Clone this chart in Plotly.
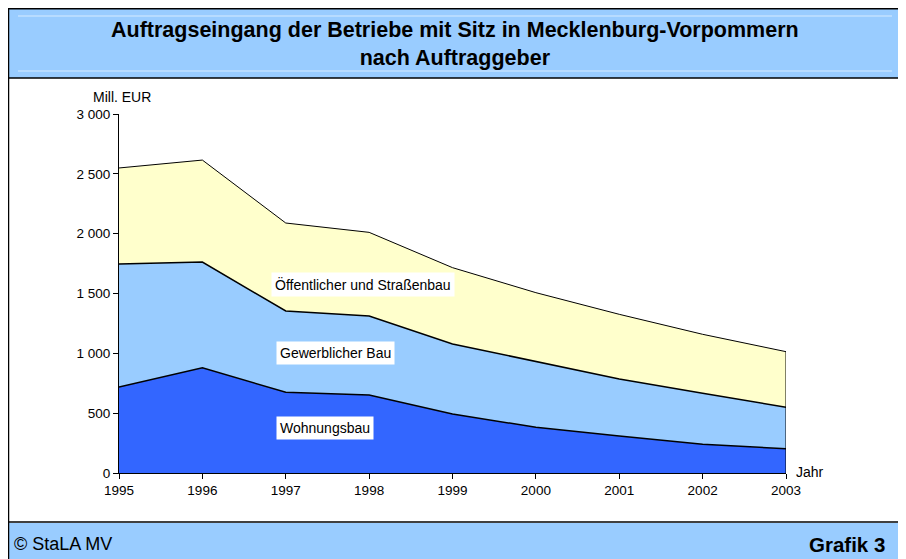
import plotly.graph_objects as go

years = [1995, 1996, 1997, 1998, 1999, 2000, 2001, 2002, 2003]
wohnungsbau = [718, 880, 674, 652, 493, 382, 309, 240, 203]
gewerblich = [1029, 883, 680, 660, 585, 548, 477, 426, 346]
oeffentlich = [802, 852, 735, 699, 638, 577, 540, 493, 465]

series_names = ["Wohnungsbau", "Gewerblicher Bau", "Öffentlicher und Straßenbau"]
series_values = [wohnungsbau, gewerblich, oeffentlich]
series_colors = ["#3366FF", "#99CCFF", "#FFFFCC"]
series_line_widths = [1.5, 1.5, 1]

y_tickvals = [0, 500, 1000, 1500, 2000, 2500, 3000]
y_ticktext = ["0", "500", "1 000", "1 500", "2 000", "2 500", "3 000"]

# page offset (default body margin of the html page)
OFF = 8
W, H = 906 - OFF, 559 - OFF
L, R, T, B = 119, 786, 114, 473   # plot area in page pixels
FONT = "Liberation Sans, Arial, sans-serif"


def xp(px):
    return (px - L) / (R - L)


def yp(py):
    return (B - py) / (B - T)


fig = go.Figure()
for name, vals, col, lw in zip(series_names, series_values, series_colors, series_line_widths):
    fig.add_trace(go.Scatter(
        x=years, y=vals, name=name, mode="lines", stackgroup="one",
        line=dict(color="black", width=lw), fillcolor=col, hoverinfo="skip",
    ))

totals = [sum(v) for v in zip(*series_values)]

shapes = [
    # title band
    dict(type="rect", xref="paper", yref="paper", x0=xp(8), x1=xp(900), y0=yp(8), y1=yp(78),
         fillcolor="#99CCFF", line=dict(width=0), layer="below"),
    dict(type="line", xref="paper", yref="paper", x0=xp(18), x1=xp(892), y0=yp(16), y1=yp(16),
         line=dict(color="#D6EBFF", width=1)),
    dict(type="line", xref="paper", yref="paper", x0=xp(18), x1=xp(892), y0=yp(71), y1=yp(71),
         line=dict(color="#D6EBFF", width=1)),
    # footer band
    dict(type="rect", xref="paper", yref="paper", x0=xp(8), x1=xp(900), y0=yp(523), y1=yp(562),
         fillcolor="#99CCFF", line=dict(width=0), layer="below"),
    # frame lines
    dict(type="line", xref="paper", yref="paper", x0=xp(8), x1=xp(901), y0=yp(8.5), y1=yp(8.5),
         line=dict(color="black", width=2)),
    dict(type="line", xref="paper", yref="paper", x0=xp(8), x1=xp(901), y0=yp(78), y1=yp(78),
         line=dict(color="black", width=1.5)),
    dict(type="line", xref="paper", yref="paper", x0=xp(8), x1=xp(901), y0=yp(522), y1=yp(522),
         line=dict(color="black", width=1.5)),
    dict(type="line", xref="paper", yref="paper", x0=xp(8.5), x1=xp(8.5), y0=yp(8), y1=yp(562),
         line=dict(color="black", width=1.5)),
    dict(type="line", xref="paper", yref="paper", x0=xp(900.5), x1=xp(900.5), y0=yp(8), y1=yp(562),
         line=dict(color="black", width=1.5)),
    # right edge of the area
    dict(type="line", xref="x", yref="y", x0=years[-1], x1=years[-1], y0=0, y1=totals[-1],
         line=dict(color="black", width=1)),
]

annotations = [
    dict(text="<b>Auftragseingang der Betriebe mit Sitz in Mecklenburg-Vorpommern<br>nach Auftraggeber</b>",
         xref="paper", yref="paper", x=xp(455), y=yp(44), xanchor="center", yanchor="middle",
         showarrow=False, font=dict(family=FONT, size=21.5, color="black")),
    dict(text="© StaLA MV", xref="paper", yref="paper", x=xp(12), y=yp(544),
         xanchor="left", yanchor="middle", showarrow=False,
         font=dict(family=FONT, size=18, color="black")),
    dict(text="<b>Grafik 3</b>", xref="paper", yref="paper", x=xp(887), y=yp(544),
         xanchor="right", yanchor="middle", showarrow=False,
         font=dict(family=FONT, size=20.5, color="black")),
    dict(text="Mill. EUR", xref="paper", yref="paper", x=xp(91), y=yp(97),
         xanchor="left", yanchor="middle", showarrow=False,
         font=dict(family=FONT, size=14, color="black")),
    dict(text="Jahr", xref="paper", yref="paper", x=xp(794), y=yp(472),
         xanchor="left", yanchor="middle", showarrow=False,
         font=dict(family=FONT, size=14, color="black")),
    # series labels
    dict(text=series_names[2], xref="paper", yref="paper", x=xp(271), y=yp(284),
         xanchor="left", yanchor="middle", showarrow=False, bgcolor="white", borderpad=3,
         font=dict(family=FONT, size=14, color="black")),
    dict(text=series_names[1], xref="paper", yref="paper", x=xp(276), y=yp(353),
         xanchor="left", yanchor="middle", showarrow=False, bgcolor="white", borderpad=3,
         font=dict(family=FONT, size=14, color="black")),
    dict(text=series_names[0], xref="paper", yref="paper", x=xp(276), y=yp(428),
         xanchor="left", yanchor="middle", showarrow=False, bgcolor="white", borderpad=3,
         font=dict(family=FONT, size=14, color="black")),
]

fig.update_layout(
    width=W, height=H,
    margin=dict(l=L - OFF, r=W - (R - OFF), t=T - OFF, b=H - (B - OFF), pad=0),
    paper_bgcolor="white", plot_bgcolor="white",
    showlegend=False,
    font=dict(family=FONT, size=13, color="black"),
    shapes=shapes, annotations=annotations,
    xaxis=dict(range=[years[0], years[-1]], tickvals=years, ticktext=[str(y) for y in years],
               showgrid=False, zeroline=False, showline=True, linecolor="black", linewidth=1,
               ticks="outside", ticklen=5, tickcolor="black", tickfont=dict(size=13.5)),
    yaxis=dict(range=[0, 3000], tickvals=y_tickvals, ticktext=y_ticktext,
               showgrid=False, zeroline=False, showline=True, linecolor="black", linewidth=1,
               ticks="outside", ticklen=5, tickcolor="black", tickfont=dict(size=13.5)),
)

fig.write_html("out.html")
